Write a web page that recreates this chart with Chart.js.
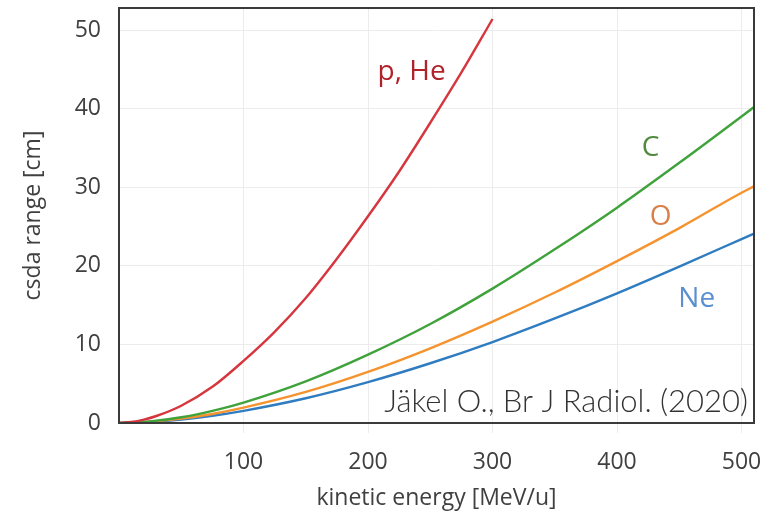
<!DOCTYPE html>
<html>
<head>
<meta charset="utf-8">
<script src="https://cdn.jsdelivr.net/npm/chart.js@4.4.1/dist/chart.umd.min.js"></script>
<style>
  html, body { margin: 0; padding: 0; background: #fff; }
  #wrap { width: 782px; height: 514px; }
</style>
</head>
<body>
<div id="wrap"><canvas id="range_chart" width="782" height="514"></canvas></div>
<script>
// energies in MeV/u, csda ranges in cm
const protonEnergy = [0, 10, 20, 30, 50, 75, 100, 125, 150, 175, 200, 225, 250, 275, 300];
const protonRange  = [0, 0.12, 0.43, 0.89, 2.2, 4.6, 7.9, 11.6, 15.9, 20.9, 26.3, 32.0, 38.2, 44.6, 51.4];

const ionEnergy   = [0, 25, 50, 75, 100, 150, 200, 250, 300, 350, 400, 450, 500, 510];
const carbonRange = [0, 0.2, 0.73, 1.55, 2.6, 5.3, 8.7, 12.6, 17.1, 22.1, 27.4, 33.1, 39.0, 40.2];
const oxygenRange = [0, 0.15, 0.55, 1.15, 1.95, 3.95, 6.5, 9.5, 12.9, 16.6, 20.6, 24.8, 29.3, 30.1];
const neonRange   = [0, 0.12, 0.44, 0.92, 1.55, 3.15, 5.2, 7.6, 10.3, 13.3, 16.5, 19.9, 23.4, 24.1];

const xTicks = [100, 200, 300, 400, 500];
const yTicks = [0, 10, 20, 30, 40, 50];

// curve labels, placed in data coordinates
const curveLabels = [
    { text: 'p, He', x: 235, y: 44.7, color: '#b0232b' },
    { text: 'C',     x: 427, y: 35.0, color: '#4f8a3d' },
    { text: 'O',     x: 435, y: 26.2, color: '#d9804a' },
    { text: 'Ne',    x: 464, y: 15.8, color: '#5b8fcf' }
];
const citation = 'Jäkel O., Br J Radiol. (2020)';

function toPoints(xs, ys) {
    return xs.map(function(x, i) { return { x: x, y: ys[i] }; });
}

const framePlugin = {
    id: 'frame',
    afterDatasetsDraw: function(chart) {
        const ctx = chart.ctx;
        const a = chart.chartArea;
        const xs = chart.scales.x;
        const ys = chart.scales.y;
        ctx.save();
        ctx.strokeStyle = '#3a3a3a';
        ctx.lineWidth = 2;
        ctx.strokeRect(a.left, a.top, a.right - a.left, a.bottom - a.top);

        ctx.textAlign = 'center';
        ctx.textBaseline = 'middle';
        ctx.font = '28px "Open Sans", sans-serif';
        curveLabels.forEach(function(l) {
            ctx.fillStyle = l.color;
            ctx.fillText(l.text, xs.getPixelForValue(l.x), ys.getPixelForValue(l.y));
        });

        ctx.textAlign = 'right';
        ctx.fillStyle = '#333';
        ctx.font = '300 31px Lato, "Open Sans", sans-serif';
        ctx.fillText(citation, a.right - 6, a.bottom - 21);
        ctx.restore();
    }
};

const ctx = document.getElementById('range_chart').getContext('2d');
new Chart(ctx, {
    type: 'line',
    data: {
        datasets: [
            { label: 'p, He', data: toPoints(protonEnergy, protonRange), borderColor: '#d6363e' },
            { label: 'C',     data: toPoints(ionEnergy, carbonRange),    borderColor: '#3fa23a' },
            { label: 'O',     data: toPoints(ionEnergy, oxygenRange),    borderColor: '#f5932f' },
            { label: 'Ne',    data: toPoints(ionEnergy, neonRange),      borderColor: '#2f7cc0' }
        ]
    },
    options: {
        responsive: false,
        animation: false,
        layout: { padding: { top: 8, right: 28, left: 0, bottom: 0 } },
        elements: {
            point: { radius: 0 },
            line: { borderWidth: 2.4, cubicInterpolationMode: 'monotone', fill: false }
        },
        plugins: {
            legend: { display: false },
            tooltip: { enabled: false }
        },
        scales: {
            x: {
                type: 'linear',
                min: 0,
                max: 510,
                afterBuildTicks: function(s) { s.ticks = xTicks.map(function(v) { return { value: v }; }); },
                afterFit: function(s) { s.height = 91; s.paddingLeft = 0; s.paddingRight = 0; },
                grid: { color: '#ececec', lineWidth: 1, tickLength: 10, tickColor: '#ececec' },
                border: { display: false },
                ticks: {
                    padding: 16,
                    color: '#404040',
                    font: { family: '"Open Sans", sans-serif', size: 23 }
                },
                title: {
                    display: true,
                    text: 'kinetic energy [MeV/u]',
                    color: '#404040',
                    font: { family: '"Open Sans", sans-serif', size: 23 },
                    padding: { top: 0, bottom: 2 }
                }
            },
            y: {
                type: 'linear',
                min: 0,
                max: 52.8,
                afterBuildTicks: function(s) { s.ticks = yTicks.map(function(v) { return { value: v }; }); },
                afterFit: function(s) { s.width = 119; s.paddingTop = 0; s.paddingBottom = 0; },
                grid: { color: '#ececec', lineWidth: 1, drawTicks: false },
                border: { display: false },
                ticks: {
                    padding: 18,
                    color: '#404040',
                    font: { family: '"Open Sans", sans-serif', size: 23 }
                },
                title: {
                    display: true,
                    text: 'csda range [cm]',
                    color: '#404040',
                    font: { family: '"Open Sans", sans-serif', size: 23 },
                    padding: { top: 20, bottom: 0 }
                }
            }
        }
    },
    plugins: [framePlugin]
});
</script>
</body>
</html>
